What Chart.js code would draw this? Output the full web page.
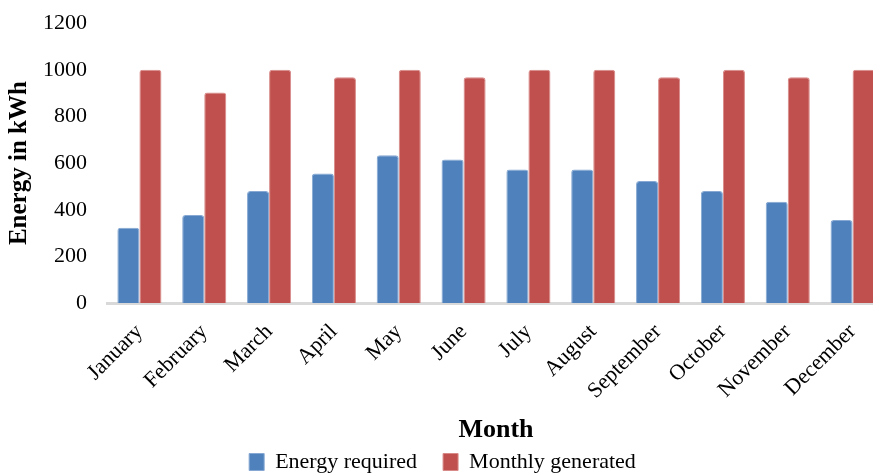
<!DOCTYPE html>
<html>
  <head>
    <meta charset="UTF-8" />
    <title>Energy required vs monthly generated</title>
    <script src="https://cdn.jsdelivr.net/npm/chart.js"></script>
    <style>
      html, body {
        margin: 0;
        background: #fff;
        overflow: hidden;
      }
      /* the original picture is cropped on the right and sits tight to the top and bottom,
         so the chart runs a bit past the window */
      #wrap {
        width: 888px;
        height: 485px;
        margin-top: -2px;
      }
    </style>
  </head>
  <body>
    <div id="wrap"><canvas id="energyChart"></canvas></div>
    <script>
      // Values (kWh)
      const months = ["January", "February", "March", "April", "May", "June",
        "July", "August", "September", "October", "November", "December"];
      const energyRequired = [323, 377, 480, 555, 634, 615, 573, 573, 523, 480, 434, 356];
      const monthlyGenerated = [1000, 903, 1000, 968, 1000, 968, 1000, 1000, 968, 1000, 968, 1000];

      const serif = "'Liberation Serif', 'Times New Roman', serif";

      const ctx = document.getElementById("energyChart").getContext("2d");
      new Chart(ctx, {
        type: "bar",
        data: {
          labels: months,
          datasets: [
            {
              label: "Energy required",
              data: energyRequired,
              backgroundColor: "#4F81BD",
              borderColor: "#86A8D2",
              borderWidth: 1,
              borderRadius: { topLeft: 3, topRight: 3 },
              borderSkipped: "bottom"
            },
            {
              label: "Monthly generated",
              data: monthlyGenerated,
              backgroundColor: "#C0504D",
              borderColor: "#D88A88",
              borderWidth: 1,
              borderRadius: { topLeft: 3, topRight: 3 },
              borderSkipped: "bottom"
            }
          ]
        },
        options: {
          responsive: true,
          maintainAspectRatio: false,
          animation: false,
          layout: { padding: { top: 0, right: 3, left: 0, bottom: 0 } },
          datasets: {
            bar: { categoryPercentage: 0.68, barPercentage: 1.0 }
          },
          plugins: {
            tooltip: { enabled: false },
            legend: {
              position: "bottom",
              labels: {
                color: "#000",
                font: { family: serif, size: 22, lineHeight: 1 },
                boxWidth: 15,
                boxHeight: 17,
                padding: 26
              }
            }
          },
          scales: {
            x: {
              // fixed height so the title and legend land where the original has them
              afterFit: (scale) => { scale.height = 122; },
              grid: { display: false },
              border: { display: true, color: "#d9d9d9", width: 3 },
              ticks: {
                color: "#000",
                font: { family: serif, size: 22 },
                minRotation: 45,
                maxRotation: 45,
                padding: 8
              },
              title: {
                display: true,
                text: "Month",
                color: "#000",
                font: { family: serif, size: 26, weight: "bold" },
                padding: { top: 0, bottom: -21 }
              }
            },
            y: {
              afterFit: (scale) => { scale.width = 107; },
              min: 0,
              max: 1200,
              grid: { display: false },
              border: { display: false },
              ticks: {
                stepSize: 200,
                color: "#000",
                font: { family: serif, size: 22 },
                padding: 12,
                callback: (v) => String(v)
              },
              title: {
                display: true,
                text: "Energy in kWh",
                color: "#000",
                font: { family: serif, size: 25, weight: "bold" },
                padding: { top: 5, bottom: 0 }
              }
            }
          }
        }
      });
    </script>
  </body>
</html>
